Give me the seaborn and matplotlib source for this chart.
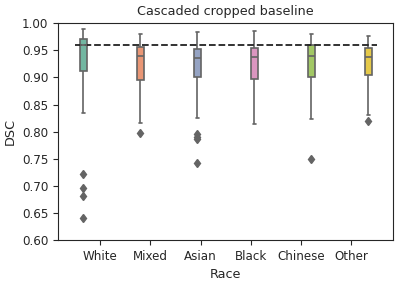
import pandas as pd
from matplotlib import pyplot as plt
import seaborn as sns

races = ["White", "Mixed", "Asian", "Black", "Chinese", "Other"]

white = [0.640, 0.682, 0.696, 0.722, 0.834, 0.9125, 0.921, 0.934, 0.945, 0.953,
         0.960, 0.962, 0.964, 0.966, 0.968, 0.971, 0.974, 0.977, 0.981, 0.985, 0.9895]
mixed = [0.797, 0.816, 0.842, 0.861, 0.879, 0.895, 0.903, 0.912, 0.924, 0.933,
         0.940, 0.943, 0.946, 0.949, 0.952, 0.956, 0.961, 0.966, 0.971, 0.976, 0.981]
asian = [0.743, 0.786, 0.790, 0.795, 0.826, 0.901, 0.909, 0.917, 0.924, 0.931,
         0.936, 0.939, 0.942, 0.945, 0.949, 0.953, 0.958, 0.964, 0.970, 0.977, 0.984]
black = [0.814, 0.838, 0.857, 0.872, 0.886, 0.897, 0.905, 0.913, 0.922, 0.931,
         0.938, 0.941, 0.944, 0.947, 0.951, 0.955, 0.960, 0.966, 0.972, 0.979, 0.986]
chinese = [0.749, 0.823, 0.849, 0.868, 0.886, 0.901, 0.910, 0.918, 0.926, 0.934,
           0.940, 0.943, 0.947, 0.950, 0.954, 0.959, 0.963, 0.967, 0.971, 0.976, 0.981]
other = [0.820, 0.831, 0.852, 0.871, 0.889, 0.904, 0.911, 0.918, 0.925, 0.932,
         0.938, 0.941, 0.944, 0.947, 0.951, 0.955, 0.959, 0.963, 0.967, 0.972, 0.977]

baseline = 0.96


def main():
    groups = [white, mixed, asian, black, chinese, other]
    df = pd.DataFrame({
        "Race": [r for r, g in zip(races, groups) for _ in g],
        "DSC": [v for g in groups for v in g],
    })

    sns.set_style("ticks")
    fig, ax = plt.subplots(figsize=(4, 2.84), dpi=100)
    gray = "#646464"
    sns.boxplot(
        data=df, x="Race", y="DSC", hue="Race", order=races, hue_order=races,
        palette="Set2", saturation=0.75, dodge=True, width=0.8, legend=False,
        linecolor=gray, linewidth=1.2,
        flierprops=dict(marker="d", markerfacecolor=gray, markeredgecolor=gray,
                        markersize=4.4),
        ax=ax,
    )
    ax.hlines(baseline, -0.5, 5.5, colors="#222222", linestyles="--", linewidth=1.3)
    ax.set_xlim(-0.84, 5.83)
    ax.set_ylim(0.6, 1.0)
    ax.set_title("Cascaded cropped baseline", fontsize=9.2)
    ax.set_xlabel("Race", fontsize=9.2)
    ax.set_ylabel("DSC", fontsize=9.2)
    ax.tick_params(labelsize=8.6)
    plt.subplots_adjust(left=0.145, right=0.983, top=0.918, bottom=0.155)
    plt.savefig("out.png")


if __name__ == "__main__":
    main()
